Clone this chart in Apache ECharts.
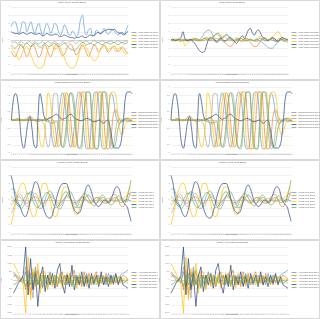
<!DOCTYPE html>
<html><head><meta charset="utf-8">
<script src="https://cdn.jsdelivr.net/npm/echarts@6/dist/echarts.min.js"></script>
<style>html,body{margin:0;padding:0;background:#fff}#c{width:320px;height:319px}</style>
</head><body><div id="c"></div>
<script>
// ---------- categories ----------
const samples60 = [1,2,3,4,5,6,7,8,9,10,11,12,13,14,15,16,17,18,19,20,21,22,23,24,25,26,27,28,29,30,31,32,33,34,35,36,37,38,39,40,41,42,43,44,45,46,47,48,49,50,51,52,53,54,55,56,57,58,59,60];
const samples48 = [1,2,3,4,5,6,7,8,9,10,11,12,13,14,15,16,17,18,19,20,21,22,23,24,25,26,27,28,29,30,31,32,33,34,35,36,37,38,39,40,41,42,43,44,45,46,47,48];
const jointLabels = ['Joint 1','Joint 2','Joint 3','Joint 4','Joint 5','Joint 6'];

// ---------- Motor torque (control) ----------
const torqueCtrlJ1 = [1.6,2.1,2.2,1.6,0.8,1.4,2.2,2.1,1.0,1.6,2.2,1.4,0.8,1.5,2.0,1.2,0.6,1.3,2.0,1.6,0.8,1.3,2.0,1.8,1.0,0.6,1.2,1.8,1.4,0.7,0.6,1.1,0.8,0.4,0.9,2.4,3.0,1.4,0.6,1.2,1.4,0.6,0.5,1.2,1.0,0.7,1.0,1.4,1.0,0.7,0.9,1.3,1.1,0.8,0.6,0.9,0.7,0.6,1.2,1.8];
const torqueCtrlJ2 = [-1.4,-1.8,-2.0,-1.6,-1.0,-0.5,-0.8,-1.5,-2.0,-1.6,-0.9,-0.5,-0.9,-1.6,-2.1,-1.8,-1.0,-0.6,-1.0,-1.7,-2.0,-1.5,-0.8,-0.5,-0.9,-1.5,-1.9,-1.7,-1.1,-0.7,-0.5,-0.8,-1.4,-1.8,-1.5,-0.9,-0.6,-0.9,-1.5,-2.0,-1.6,-1.0,-0.6,-0.9,-1.4,-1.2,-0.8,-0.6,-1.0,-1.5,-1.3,-0.9,-0.7,-1.0,-1.4,-1.2,-0.8,-1.0,-1.4,-1.6];
const torqueCtrlJ3 = [-0.2,-0.3,-0.2,-0.4,-0.3,-0.2,-0.3,-0.5,-0.3,-0.2,-0.3,-0.4,-0.2,-0.3,-0.5,-0.3,-0.2,-0.4,-0.3,-0.2,-0.4,-0.3,-0.2,-0.3,-0.5,-0.4,-0.2,-0.3,-0.4,-0.3,-0.2,-0.1,-0.3,-0.4,-0.2,-0.1,-0.3,-0.2,-0.1,-0.3,-0.4,-0.2,-0.1,-0.2,-0.3,-0.2,-0.1,-0.2,-0.3,-0.2,-0.1,-0.2,-0.3,-0.2,-0.1,-0.2,-0.3,-0.2,-0.1,-0.2];
const torqueCtrlJ4 = [-0.8,-1.2,-1.6,-2.0,-2.4,-2.0,-1.4,-1.0,-0.8,-1.2,-1.8,-2.4,-2.9,-3.3,-3.4,-3.4,-3.2,-2.6,-1.6,-0.9,-0.6,-0.8,-1.2,-0.9,-0.7,-1.0,-1.6,-2.2,-2.8,-3.2,-3.4,-3.4,-3.3,-2.8,-2.0,-1.2,-0.8,-0.6,-0.9,-1.4,-1.9,-2.3,-2.5,-2.4,-1.9,-1.3,-0.9,-0.7,-0.9,-1.2,-1.0,-0.8,-1.1,-1.4,-1.2,-0.9,-1.1,-1.5,-1.7,-1.5];
const torqueCtrlJ5 = [1.0,0.9,0.8,0.8,0.7,0.8,0.9,0.8,0.7,0.8,0.9,0.8,0.7,0.7,0.8,0.7,0.5,0.6,0.8,0.7,0.6,0.6,0.7,0.7,0.5,0.4,0.5,0.6,0.5,0.4,0.3,0.3,0.2,0.3,0.3,0.4,0.5,0.3,0.3,0.5,0.6,0.5,0.6,0.8,0.9,0.8,0.9,1.1,1.2,1.3,1.3,1.2,1.3,1.1,0.9,0.8,0.9,0.7,0.8,1.1];
const torqueCtrlJ6 = [-0.6,-0.8,-1.0,-0.8,-0.5,-0.7,-0.9,-0.6,-0.4,-0.6,-0.8,-0.7,-0.4,-0.5,-0.8,-0.9,-0.6,-0.4,-0.6,-0.8,-0.7,-0.5,-0.4,-0.6,-0.8,-0.7,-0.5,-0.4,-0.6,-0.9,-1.1,-1.2,-1.3,-1.1,-0.8,-0.5,-0.3,-0.4,-0.6,-0.5,-0.4,-0.5,-0.6,-0.4,-0.3,-0.5,-0.6,-0.4,-0.3,-0.4,-0.5,-0.4,-0.3,-0.5,-0.6,-0.4,-0.3,-0.5,-0.4,-0.3];

// ---------- Motor torque (RMS) ----------
const torqueRmsJ1 = [0,0,0.1,0,-0.1,0,0.1,0,0,-0.1,0,0.1,0,-0.1,0,0.2,0.5,0.9,1.1,1.2,1.1,0.6,0.1,-0.3,-0.2,0.1,0.3,0.5,0.6,0.4,0.1,-0.1,0.0,0.1,0.0,-0.1,0.0,0.1,0.2,0.1,0.0,-0.1,0.0,0.1,0.0,-0.2,-0.3,-0.5,-0.7,-0.9,-1.0,-1.0,-0.8,-0.5,-0.2,0.0,0.1,0.0,-0.2,-0.3];
const torqueRmsJ2 = [0,-0.1,0,0.1,0,-0.2,0,0.1,0,-0.1,0,0.1,0.2,0.1,0,-0.1,0,0.2,0.3,0.1,0,0.2,0.5,0.7,0.6,0.2,-0.1,-0.3,-0.5,-0.7,-0.8,-0.6,-0.2,0.1,0.2,0.0,-0.2,-0.1,0.1,0.0,-0.3,-0.6,-0.8,-0.8,-0.5,-0.2,0.1,0.3,0.2,0.0,0.1,0.2,0.0,-0.1,0.1,0.2,0.0,-0.2,0.0,0.1];
const torqueRmsJ3 = [0,0.05,0,-0.05,0,0.1,0,-0.1,0,0.05,0,-0.1,0.1,0.2,0.1,0,-0.1,0,0.1,0,-0.1,0,0.1,0.2,0.1,0,-0.1,-0.2,-0.1,0,0.1,0,-0.1,0,0.1,0.2,0.1,0,-0.1,0,0.1,0,-0.1,-0.2,-0.1,0,0.1,0,-0.1,0,0.1,0.2,0.1,0,-0.1,0,0.1,0,-0.1,0];
const torqueRmsJ4 = [0,0,0.1,0,-0.1,0,0.1,-0.7,-0.5,-0.2,0,0.2,0.1,0,-0.1,0,0.1,0.2,0.3,0.2,0.1,0,-0.2,-0.1,0.1,0.3,0.5,0.4,0.2,0,-0.1,0,0.2,0.3,0.1,-0.1,0,0.1,0.2,0.1,0,-0.1,0,0.1,0.3,0.4,0.2,0,-0.1,0,0.1,0.3,0.6,0.9,1.0,0.7,0.3,0.1,0,0.1];
const torqueRmsJ5 = [0.0,0.1,-0.1,0.0,0.1,0.3,1.0,0.2,-0.1,0.0,0.1,-0.2,-0.4,-0.8,-1.2,-1.4,-1.5,-1.3,-0.6,0.1,0.3,0.2,0.0,-0.2,0.0,0.2,0.1,-0.1,0.0,0.2,0.3,0.1,-0.2,-0.4,-0.1,0.3,0.5,0.2,0.6,1.2,1.4,0.9,0.6,1.0,1.2,0.9,0.4,0.2,0.1,-0.1,0.1,0.3,0.2,0.0,-0.2,0.1,0.3,0.2,0.1,0.0];
const torqueRmsJ6 = [0,0,-0.1,0,0.1,0,-0.1,0,0.1,0,-0.1,0,0.1,0,-0.1,0,0.1,0.2,0.1,0,0.2,0.4,0.6,0.8,0.8,0.5,0.2,0.5,0.7,0.5,0.2,0,-0.2,-0.1,0.1,0.2,0.1,0,-0.1,0,0.1,0,-0.1,0,0.1,0.2,0.1,0,-0.1,0,0.1,0,-0.1,-0.2,-0.1,0,0.1,0.2,0.1,0];

// ---------- Angular displacement ----------
const dispJ1 = [0.0,0.0,0.0,0.02,0.0,-0.02,0.0,0.0,0.02,0.0,0.0,-0.02,0.0,0.02,0.0,0.0,0.05,0.1,0.0,-0.3,-1.2,-1.65,-1.2,0.0,1.2,1.65,1.2,0.0,-1.2,-1.65,-1.2,0.0,1.3,1.7,1.5,0.2,-1.4,-1.75,-1.7,-0.3,1.3,1.7,1.65,0.3,-1.4,-1.75,-1.75,-0.5,1.2,1.6,1.2,0.3,-0.1,-0.2,-0.1,0.0,0.1,0.0,-0.1,0.0];
const dispJ2 = [0.0,0.0,0.05,0.1,0.05,0.0,-0.05,0.0,0.15,0.25,0.15,0.0,-0.05,0.0,0.05,0.0,-0.05,0.0,0.05,0.1,0.05,-0.2,-1.0,-1.6,-1.4,-0.3,1.0,1.65,1.3,0.0,-1.2,-1.65,-1.3,-0.1,1.2,1.7,1.7,0.6,-1.2,-1.75,-1.75,-0.7,1.1,1.7,1.7,0.6,-1.2,-1.75,-1.7,-0.7,0.4,0.6,0.3,0.0,-0.1,0.0,0.1,0.1,0.0,-0.1];
const dispJ3 = [0.0,0.0,0.02,0.0,-0.02,0.0,0.02,0.05,0.03,0.0,-0.03,0.0,0.03,0.05,0.0,-0.1,-0.3,-1.2,-1.65,-1.0,0.6,1.6,1.6,0.6,-1.0,-1.65,-1.6,-0.6,1.0,1.65,1.6,0.6,-1.0,-1.7,-1.75,-0.6,1.2,1.7,1.7,0.5,-1.4,-1.75,-1.75,-0.4,1.4,1.7,1.6,0.2,-1.4,-1.75,-1.5,-0.6,0.0,0.1,0.0,-0.1,0.0,0.1,0.0,-0.1];
const dispJ4 = [0.0,0.02,0.05,0.03,0.0,-0.05,-0.03,0.0,0.05,0.1,0.05,0.0,-0.1,-0.4,-1.3,-1.65,-1.17,0.2,1.65,1.2,0.0,-1.17,-1.65,-1.17,0.0,1.17,1.65,1.17,0.0,-1.17,-1.65,-1.2,0.0,1.2,1.7,1.6,0.4,-1.5,-1.75,-1.75,-0.6,1.4,1.7,1.7,0.5,-1.5,-1.75,-0.8,1.2,1.7,1.7,1.5,0.4,-0.6,-0.9,-0.6,-0.2,0.0,0.1,0.1];
const dispJ5 = [0.0,1.3,1.6,1.2,0.0,-1.3,-1.7,-1.1,-0.2,0.2,-0.5,-1.5,-1.7,0.2,1.6,1.0,0.2,0.0,0.1,0.15,0.2,0.3,0.35,0.25,0.1,0.05,0.1,0.15,0.3,0.35,0.25,0.1,0.05,0.0,-0.05,0.0,0.05,0.1,0.05,0.0,-0.1,-0.1,-0.05,0.0,-0.1,-0.2,-0.1,0.0,-0.3,-1.0,-1.6,-1.7,-1.7,-1.6,-1.0,0.3,1.5,1.7,1.7,1.6];
const dispJ6 = [0.0,0.0,-0.02,0.0,0.02,0.0,0.0,-0.02,0.0,0.02,0.0,0.0,-0.05,-0.1,-0.05,0.0,0.0,-0.05,-0.1,-0.15,-0.2,-0.15,-0.1,-0.4,-1.2,-1.65,-1.2,0.0,1.2,1.65,1.2,0.0,-1.2,-1.7,-1.6,-0.4,0.9,1.7,1.7,0.9,-0.8,-1.7,-1.75,-1.0,0.7,1.7,1.7,1.0,-0.5,-1.4,-1.7,-1.4,-0.6,-0.2,0.0,0.1,0.0,-0.1,0.0,0.0];

// ---------- Angular velocity ----------
const velJ1 = [1.2,1.4,1.0,0.2,-0.6,-1.0,-0.8,-0.2,0.4,0.9,1.0,0.6,0.0,-0.6,-1.0,-1.0,-0.5,0.2,0.8,1.1,0.9,0.3,-0.4,-0.9,-1.1,-0.8,-0.2,0.4,0.9,1.0,0.7,0.1,-0.5,-0.9,-0.9,-0.5,0.0,0.4,0.6,0.4,0.0,-0.3,-0.4,-0.2,0.1,0.3,0.2,-0.1,-0.3,-0.2,0.1,0.3,0.2,-0.1,-0.3,-0.2,0.0,0.1,0.0,-0.2];
const velJ2 = [-0.6,-0.3,0.0,0.3,0.4,0.2,-0.1,-0.3,-0.4,-0.2,0.1,0.3,0.4,0.2,-0.1,-0.3,-0.4,-0.2,0.1,0.3,0.4,0.2,-0.1,-0.3,-0.4,-0.2,0.1,0.3,0.4,0.2,-0.1,-0.3,-0.3,-0.1,0.2,0.3,0.2,0.0,-0.2,-0.3,-0.2,0.1,0.3,0.3,0.1,-0.2,-0.4,-0.4,-0.1,0.3,0.6,0.7,0.4,-0.2,-0.7,-0.8,-0.4,0.3,0.8,0.6];
const velJ3 = [-1.6,-1.2,-0.4,0.3,0.7,0.6,0.1,-0.5,-0.8,-0.6,0.0,0.6,0.8,0.5,-0.1,-0.6,-0.8,-0.5,0.1,0.6,0.7,0.4,-0.2,-0.6,-0.7,-0.4,0.1,0.5,0.6,0.3,-0.2,-0.5,-0.5,-0.2,0.2,0.4,0.3,0.0,-0.3,-0.4,-0.2,0.1,0.3,0.2,-0.1,-0.3,-0.2,0.1,0.2,0.1,-0.1,-0.2,-0.1,0.1,0.2,0.1,-0.1,-0.2,0.4,1.0];
const velJ4 = [-3.0,-2.0,-0.8,0.4,1.4,1.9,2.0,1.6,0.6,-0.6,-1.6,-2.0,-1.8,-0.8,0.4,1.5,2.0,2.0,1.4,0.2,-1.0,-1.9,-2.0,-1.5,-0.4,0.7,1.5,1.6,1.4,0.6,-0.5,-1.4,-1.8,-1.6,-0.8,0.0,0.4,0.5,0.2,-0.1,-0.3,-0.2,0.0,0.2,0.3,0.1,-0.2,-0.3,-0.1,0.1,0.2,0.0,-0.2,-0.1,0.1,0.2,0.3,0.6,1.2,1.6];
const velJ5 = [3.0,2.0,0.4,-0.4,-0.6,-1.2,-1.8,-2.0,-1.6,-0.6,0.6,1.6,2.2,2.0,1.2,0.0,-1.0,-1.7,-2.1,-2.2,-2.0,-1.2,-0.2,0.8,1.5,1.9,2.0,2.0,1.6,0.6,-0.4,-1.1,-1.5,-1.6,-1.4,-0.6,0.6,1.5,1.8,1.4,0.6,-0.2,-0.6,-0.8,-0.6,-0.2,0.0,-0.2,-0.3,0.0,0.6,1.3,1.6,1.4,0.6,-0.2,-0.5,-0.8,-1.6,-2.6];
const velJ6 = [0.4,0.2,-0.2,-0.6,-0.8,-0.6,-0.1,0.4,0.8,0.8,0.4,-0.2,-0.7,-0.9,-0.7,-0.2,0.4,0.8,0.9,0.6,0.0,-0.6,-0.9,-0.8,-0.3,0.3,0.8,1.0,0.8,0.2,-0.4,-0.8,-0.9,-0.6,0.0,0.5,0.8,0.7,0.3,-0.2,-0.6,-0.7,-0.4,0.0,0.4,0.6,0.4,0.0,-0.4,-0.6,-0.5,-0.1,0.3,0.5,0.3,-0.1,-0.2,0.3,1.2,2.4];

// ---------- Angular acceleration ----------
const accJ1 = [200,300,200,0,-200,500,-300,400,-500,800,-200,300,-400,200,-300,500,-200,100,-400,300,-100,200,-300,400,-200,100,300,-200,200,-300,400,-100,200,-300,100,300,-200,200,-300,400,-100,300,-200,100,300,400,500,600];
const accJ2 = [400,200,0,-100,200,-600,600,-900,500,-300,600,-500,300,-200,200,400,-300,300,-400,200,500,-300,400,-200,300,600,-300,200,-400,500,-200,400,-300,200,500,-200,300,-300,400,-100,200,-300,300,-200,100,300,200,0];
const accJ3 = [500,300,100,0,-100,800,-400,200,-1100,600,-300,400,-200,300,-500,200,-100,300,-200,100,-300,200,-100,200,-300,100,-200,300,-100,200,-200,100,-300,200,-100,100,-200,100,-100,200,-200,100,-100,200,-100,0,-100,-200];
const accJ4 = [1000,700,400,100,-300,-2000,1400,-1200,700,-400,1000,-800,500,500,-600,300,-400,200,-300,400,-500,300,-200,400,-300,200,-500,400,-300,200,-400,300,-200,300,-300,200,-200,300,-200,100,-300,200,-100,200,-200,100,0,100];
const accJ5 = [-800,-500,-200,0,300,2000,-900,1300,-600,400,-1600,200,800,-700,300,-300,400,-500,600,1000,-200,-800,300,-400,900,-600,200,-300,500,-400,200,-500,400,-200,300,-400,500,-300,200,-400,300,-200,400,-300,200,-300,-400,-500];
const accJ6 = [-300,-200,-100,0,100,-400,300,-300,200,500,-300,200,-500,300,-200,100,300,-300,200,-200,100,300,-200,100,-400,300,-100,200,-200,100,300,-200,100,-100,200,-300,100,200,-100,100,-200,100,200,-100,100,-200,-100,0];

// ---------- axis ticks ----------
const torqueTicks = {min:-4, max:4, interval:1};
const dispTicks = {min:-2, max:2, interval:0.5};
const velTicks = {min:-4, max:4, interval:1};
const accTicks = {min:-2000, max:2000, interval:500};

const colors = ['#5B9BD5','#ED7D31','#A5A5A5','#FFC000','#264478','#70AD47'];

const panels = [
  {title:'Motor Torque Control Spring', prefix:'Motor Torque Ctrl', yName:'Torque', ticks:torqueTicks, cats:samples60, smooth:true,
   data:[torqueCtrlJ1,torqueCtrlJ2,torqueCtrlJ3,torqueCtrlJ4,torqueCtrlJ5,torqueCtrlJ6]},
  {title:'Motor Torque RMS Spring', prefix:'Motor Torque RMS', yName:'Torque', ticks:torqueTicks, cats:samples60, smooth:true,
   data:[torqueRmsJ1,torqueRmsJ2,torqueRmsJ3,torqueRmsJ4,torqueRmsJ5,torqueRmsJ6]},
  {title:'Angular Displacement Control Spring', prefix:'Displacement Ctrl', yName:'Angle', ticks:dispTicks, cats:samples60, smooth:true,
   data:[dispJ1,dispJ2,dispJ3,dispJ4,dispJ5,dispJ6]},
  {title:'Angular Displacement RMS Spring', prefix:'Displacement RMS', yName:'Angle', ticks:dispTicks, cats:samples60, smooth:true,
   data:[dispJ1,dispJ2,dispJ3,dispJ4,dispJ5,dispJ6]},
  {title:'Angular Velocity Control Spring', prefix:'Velocity Ctrl', yName:'Velocity', ticks:velTicks, cats:samples60, smooth:true,
   data:[velJ1,velJ2,velJ3,velJ4,velJ5,velJ6]},
  {title:'Angular Velocity RMS Spring', prefix:'Velocity RMS', yName:'Velocity', ticks:velTicks, cats:samples60, smooth:true,
   data:[velJ1,velJ2,velJ3,velJ4,velJ5,velJ6]},
  {title:'Angular Acceleration Control Spring', prefix:'Acceleration Ctrl', yName:'Accel', ticks:accTicks, cats:samples48, smooth:false,
   data:[accJ1,accJ2,accJ3,accJ4,accJ5,accJ6]},
  {title:'Angular Acceleration RMS Spring', prefix:'Acceleration RMS', yName:'Accel', ticks:accTicks, cats:samples48, smooth:false,
   data:[accJ1,accJ2,accJ3,accJ4,accJ5,accJ6]}
];

const plotWidths = [117, 121, 120, 117];
const textColor = '#7F7F7F';

const option = {animation:false, backgroundColor:'#ffffff', grid:[], xAxis:[], yAxis:[], series:[], legend:[], graphic:[]};

panels.forEach((pn, p) => {
  const col = p % 2, row = Math.floor(p / 2);
  const L = col * 160, T = row * 80;
  const H = row === 3 ? 79 : 80;
  const W = plotWidths[row];
  option.graphic.push({type:'rect', z:-1, silent:true, shape:{x:L+0.5, y:T+0.5, width:159, height:H-1},
    style:{fill:'#ffffff', stroke:'#D9D9D9', lineWidth:1}});
  option.graphic.push({type:'text', silent:true, x:L+72, y:T+1.2,
    style:{text:pn.title, fontSize:2.2, fill:'#595959', textAlign:'center', textVerticalAlign:'top', fontFamily:'Liberation Sans'}});
  option.graphic.push({type:'text', silent:true, x:L+72, y:T+73.5,
    style:{text:'Time (sample)', fontSize:1.8, fill:'#595959', textAlign:'center', textVerticalAlign:'top', fontFamily:'Liberation Sans'}});
  option.grid.push({left:L+11, top:T+7, width:W, height:66});
  option.xAxis.push({gridIndex:p, type:'category', data:pn.cats, boundaryGap:false,
    axisLine:{onZero:true, lineStyle:{color:'#BFBFBF', width:0.6}}, axisTick:{show:false},
    axisLabel:{fontSize:1.6, color:'#8C8C8C', margin:1, interval:0, fontFamily:'Liberation Sans'}, splitLine:{show:false}});
  option.yAxis.push({gridIndex:p, type:'value', min:pn.ticks.min, max:pn.ticks.max, interval:pn.ticks.interval,
    axisLine:{show:false}, axisTick:{show:false},
    axisLabel:{fontSize:1.8, color:textColor, margin:1.5, fontFamily:'Liberation Sans'},
    splitLine:{lineStyle:{color:'#E3E3E3', width:0.5}},
    name:pn.yName, nameLocation:'middle', nameGap:7, nameRotate:90,
    nameTextStyle:{fontSize:1.8, color:textColor, fontFamily:'Liberation Sans'}});
  const names = [];
  pn.data.forEach((arr, s) => {
    const nm = pn.prefix + ' ' + jointLabels[s];
    names.push(nm);
    option.series.push({type:'line', name:nm, xAxisIndex:p, yAxisIndex:p, data:arr, smooth:pn.smooth,
      showSymbol:false, symbol:'none', lineStyle:{width:0.7, color:colors[s]}, itemStyle:{color:colors[s]}});
  });
  option.legend.push({orient:'vertical', left:L+131.5, top:T+31.5, padding:0, itemWidth:5, itemHeight:0.8, itemGap:0.7,
    icon:'rect', data:names, selectedMode:false,
    textStyle:{fontSize:1.8, color:'#595959', lineHeight:2.3, padding:[0,0,0,-3], fontFamily:'Liberation Sans'}});
});

const chart = echarts.init(document.getElementById('c'), null, {renderer:'canvas'});
chart.setOption(option);
</script>
</body></html>
